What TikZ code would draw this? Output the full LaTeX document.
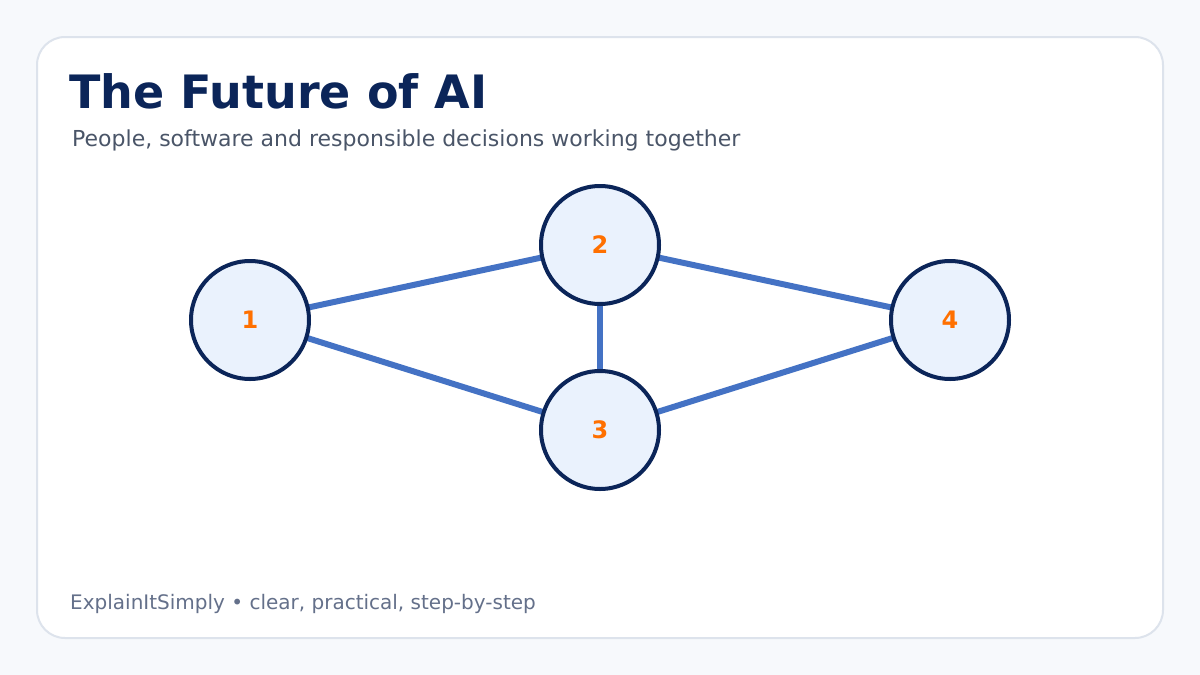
\documentclass[tikz,border=0pt]{standalone}
\usepackage{fontspec}
\setmainfont{DejaVu Sans}
\definecolor{pagebg}{HTML}{F7F9FC}
\definecolor{cardline}{HTML}{DDE3EC}
\definecolor{navy}{HTML}{0B2559}
\definecolor{nodefill}{HTML}{EAF2FD}
\definecolor{edgeblue}{HTML}{4472C4}
\definecolor{numorange}{HTML}{FF7000}
\definecolor{subgray}{HTML}{4A5568}
\definecolor{footgray}{HTML}{64708A}
\begin{document}
\begin{tikzpicture}[x=1pt,y=-1pt,
  graphnode/.style={circle,draw=navy,line width=4pt,fill=nodefill,minimum size=118pt,inner sep=0pt,
    text=numorange,font=\fontsize{24}{28}\selectfont\bfseries},
  edge/.style={draw=edgeblue,line width=6pt},
  txt/.style={anchor=base west,inner sep=0pt}]
\useasboundingbox (0,0) rectangle (1200,675);
\fill[pagebg] (0,0) rectangle (1200,675);
\draw[cardline,line width=2pt,fill=white,rounded corners=28pt] (37,37) rectangle (1163,638);
\node[txt,text=navy,font=\fontsize{46}{52}\selectfont\bfseries] (title) at (69,108) {The Future of AI};
\node[txt,text=subgray,font=\fontsize{22}{26}\selectfont] (sub) at (72,146) {People, software and responsible decisions working together};
\node[txt,text=footgray,font=\fontsize{20}{24}\selectfont] (foot) at (70,609) {ExplainItSimply • clear, practical, step-by-step};
\coordinate (c1) at (250,320);
\coordinate (c2) at (600,245);
\coordinate (c3) at (600,430);
\coordinate (c4) at (950,320);
\draw[edge] (c1) -- (c2);
\draw[edge] (c1) -- (c3);
\draw[edge] (c2) -- (c3);
\draw[edge] (c2) -- (c4);
\draw[edge] (c3) -- (c4);
\node[graphnode] (n1) at (c1) {1};
\node[graphnode] (n2) at (c2) {2};
\node[graphnode] (n3) at (c3) {3};
\node[graphnode] (n4) at (c4) {4};
\end{tikzpicture}
\end{document}
